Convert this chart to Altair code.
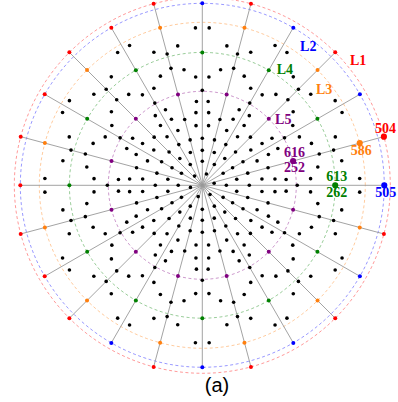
import math
import pandas as pd
import altair as alt

# ---------------- data ----------------
# concentric reference circles, radius relative to the outer circle L1
LEVELS = ["L1", "L2", "L3", "L4", "L5"]
LEVEL_RADII = [1.0, 0.968, 0.867, 0.707, 0.5]
LEVEL_COLORS = ["#ff0000", "#0000ff", "#ff7f0e", "#008000", "#800080"]

# where each circle name is written (polar angle in degrees, radius)
LEVEL_LABEL_ANGLES = [38.5, 52.6, 38.0, 54.4, 38.9]
LEVEL_LABEL_RADII = [1.059, 0.928, 0.822, 0.755, 0.553]

# 24 spokes; odd spokes carry nodes on L1, L3, L5, even spokes on L2, L4
SPOKE_ANGLES = [0, 15, 30, 45, 60, 75, 90, 105, 120, 135, 150, 165,
                180, 195, 210, 225, 240, 255, 270, 285, 300, 315, 330, 345]
ODD_SPOKE_LEVELS = ["L1", "L3", "L5"]
EVEN_SPOKE_LEVELS = ["L2", "L4"]

# colour group of the node on L2 for each even spoke
L2_NODE_ANGLES = [0, 30, 60, 90, 120, 150, 180, 210, 240, 270, 300, 330]
L2_NODE_GROUPS = ["L2", "L2", "L2", "L2", "L1", "L1", "L1", "L1",
                  "L2", "L2", "L2", "L2"]

# innermost mesh rings: radius and node angles (degrees)
INNER_RING_RADII = [0.064, 0.128, 0.186]
INNER_RING_ANGLES = [
    [10, 70, 130, 190, 250, 310],
    [0, 30, 60, 90, 120, 150, 180, 210, 240, 270, 300, 330],
    [10, 30, 50, 70, 90, 110, 130, 150, 170, 190, 210, 230, 250, 270, 290,
     310, 330, 350],
]

# outer mesh rings: radius and node angles (degrees) inside one 30-degree
# sector; this part of the mesh repeats in each of the 12 sectors
MESH_RING_RADII = [0.250, 0.319, 0.362, 0.388, 0.447, 0.505, 0.577, 0.622,
                   0.644, 0.723, 0.753, 0.838]
MESH_RING_OFFSETS = [[0, 15], [6, 24], [15], [5, 25], [4, 26], [0],
                     [3.5, 26.5], [9, 21], [15], [15], [10, 20], [2.5, 27.5]]
SECTOR_STARTS = [0, 30, 60, 90, 120, 150, 180, 210, 240, 270, 300, 330]

# numbered nodes (level, spoke angle, number above, number below)
TAGGED_LEVELS = ["L1", "L2", "L3", "L4", "L5"]
TAGGED_ANGLES = [15, 0, 15, 0, 15]
TAGS_ABOVE = ["504", "", "", "613", "616"]
TAGS_BELOW = ["", "505", "586", "262", "252"]

CAPTION = "(a)"

# ---------------- layout ----------------
W, H = 398, 402
CENTER_X_PX, CENTER_Y_PX = 202.3, 185.3
PX_PER_UNIT = 188.0
X_DOMAIN = [-CENTER_X_PX / PX_PER_UNIT, (W - CENTER_X_PX) / PX_PER_UNIT]
Y_DOMAIN = [-(H - CENTER_Y_PX) / PX_PER_UNIT, CENTER_Y_PX / PX_PER_UNIT]

radius_of = dict(zip(LEVELS, LEVEL_RADII))


def polar(r, deg):
    a = math.radians(deg)
    return r * math.cos(a), r * math.sin(a)


x_scale = alt.Scale(domain=X_DOMAIN, nice=False, zero=False)
y_scale = alt.Scale(domain=Y_DOMAIN, nice=False, zero=False)
color_scale = alt.Scale(domain=LEVELS, range=LEVEL_COLORS)
X = lambda f="x": alt.X(f"{f}:Q", scale=x_scale, axis=None)
Y = lambda f="y": alt.Y(f"{f}:Q", scale=y_scale, axis=None)
C = alt.Color("group:N", scale=color_scale, legend=None)

# dashed circles
circle_rows = []
for lev, r in zip(LEVELS, LEVEL_RADII):
    for t in range(0, 361, 2):
        x, y = polar(r, t)
        circle_rows.append({"group": lev, "t": t, "x": x, "y": y})
circles = alt.Chart(pd.DataFrame(circle_rows)).mark_line(
    strokeWidth=0.9, strokeDash=[3, 2.5], opacity=0.45
).encode(x=X(), y=Y(), color=C, detail="group:N", order="t:Q")

# spokes from the centre to the outermost node of each spoke
spoke_rows = []
for ang in SPOKE_ANGLES:
    r_end = radius_of["L1"] if ang % 30 else radius_of["L2"]
    x2, y2 = polar(r_end, ang)
    spoke_rows.append({"x": 0.0, "y": 0.0, "x2": x2, "y2": y2})
spokes = alt.Chart(pd.DataFrame(spoke_rows)).mark_rule(
    color="#999999", strokeWidth=0.9
).encode(x=X(), y=Y(), x2="x2:Q", y2="y2:Q")

# interior mesh nodes
mesh_rows = []
for r, angs in zip(INNER_RING_RADII, INNER_RING_ANGLES):
    for a in angs:
        x, y = polar(r, a)
        mesh_rows.append({"x": x, "y": y})
for r, offs in zip(MESH_RING_RADII, MESH_RING_OFFSETS):
    for s in SECTOR_STARTS:
        for o in offs:
            x, y = polar(r, s + o)
            mesh_rows.append({"x": x, "y": y})
mesh = alt.Chart(pd.DataFrame(mesh_rows)).mark_circle(
    color="black", size=13, opacity=1
).encode(x=X(), y=Y())

# coloured nodes where spokes cross the circles
node_rows = []
l2_group = dict(zip(L2_NODE_ANGLES, L2_NODE_GROUPS))
for ang in SPOKE_ANGLES:
    levels = EVEN_SPOKE_LEVELS if ang % 30 == 0 else ODD_SPOKE_LEVELS
    for lev in levels:
        x, y = polar(radius_of[lev], ang)
        grp = l2_group[ang] if lev == "L2" else lev
        node_rows.append({"x": x, "y": y, "group": grp})
nodes = alt.Chart(pd.DataFrame(node_rows)).mark_circle(
    size=16, opacity=1
).encode(x=X(), y=Y(), color=C)

# numbered nodes
tag_rows = []
for lev, ang, up, down in zip(TAGGED_LEVELS, TAGGED_ANGLES, TAGS_ABOVE, TAGS_BELOW):
    x, y = polar(radius_of[lev], ang)
    tag_rows.append({"x": x, "y": y, "group": lev, "up": up, "down": down})
tag_df = pd.DataFrame(tag_rows)
tagged = alt.Chart(tag_df).mark_circle(size=38, opacity=1).encode(
    x=X(), y=Y(), color=C)

text_style = dict(font="Liberation Serif", fontWeight="bold", fontSize=14,
                  baseline="middle", align="center")
tags_up = alt.Chart(tag_df).mark_text(dx=1.5, dy=-8, **text_style).encode(
    x=X(), y=Y(), color=C, text="up:N")
tags_down = alt.Chart(tag_df).mark_text(dx=1.5, dy=7.5, **text_style).encode(
    x=X(), y=Y(), color=C, text="down:N")

# circle names
name_rows = []
for lev, ang, r in zip(LEVELS, LEVEL_LABEL_ANGLES, LEVEL_LABEL_RADII):
    x, y = polar(r, ang)
    name_rows.append({"x": x, "y": y, "group": lev, "name": lev})
names = alt.Chart(pd.DataFrame(name_rows)).mark_text(**text_style).encode(
    x=X(), y=Y(), color=C, text="name:N")

caption = alt.Chart(pd.DataFrame({"label": [CAPTION]})).mark_text(
    font="Liberation Sans", fontSize=20, align="center", baseline="middle",
    color="black"
).encode(x=alt.value(217), y=alt.value(386), text="label:N")

chart = alt.layer(
    circles, spokes, mesh, nodes, tagged, tags_up, tags_down, names, caption
).properties(
    width=W, height=H, padding=0,
    autosize=alt.AutoSizeParams(type="none"),
    background="white",
).configure_view(stroke=None)

chart.save("out.html", embed_options={"renderer": "svg", "actions": False})
